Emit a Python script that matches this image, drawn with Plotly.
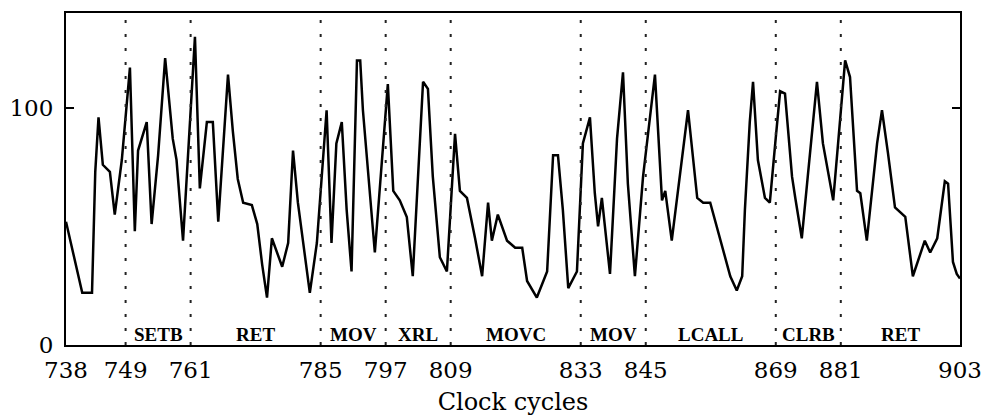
import plotly.graph_objects as go

# Trace (clock cycle, amplitude)
cycles = [738.0, 741.0, 742.8, 743.4, 744.0, 744.8, 746.1, 747.0, 748.3, 749.8,
          750.7, 751.3, 752.9, 753.8, 755.0, 756.3, 757.7, 758.4, 759.6, 761.8,
          762.7, 764.0, 765.1, 766.1, 767.9, 768.8, 769.7, 770.7, 772.3, 773.3,
          774.2, 775.1, 776.0, 777.9, 779.0, 779.9, 780.8, 783.0, 784.3, 785.2,
          786.1, 787.0, 787.9, 788.9, 789.8, 790.7, 791.7, 792.3, 792.8, 795.0,
          797.4, 798.4, 799.6, 800.9, 802.0, 803.9, 804.8, 805.7, 807.0, 808.3,
          809.8, 810.7, 812.0, 813.5, 814.8, 815.9, 816.6, 817.7, 819.4, 820.9,
          822.2, 823.1, 824.9, 826.8, 827.9, 828.8, 829.7, 830.7, 832.3, 833.4,
          834.7, 835.6, 836.2, 836.9, 838.4, 839.7, 840.8, 841.7, 843.0, 844.5,
          846.7, 848.0, 848.6, 849.8, 852.8, 854.5, 855.6, 856.9, 858.7, 860.6,
          861.8, 862.8, 863.3, 864.2, 864.8, 865.7, 867.0, 867.9, 868.9, 869.8,
          870.7, 872.0, 872.6, 873.8, 874.9, 875.9, 876.6, 877.7, 879.6, 880.5,
          881.8, 882.7, 883.3, 884.0, 884.6, 885.8, 887.7, 888.6, 889.7, 891.0,
          892.9, 894.3, 896.5, 897.5, 898.8, 900.2, 900.8, 901.7, 902.4, 903.0]
values = [52, 22, 22, 73, 96, 76, 73, 55, 78, 117,
          48, 82, 94, 51, 80, 121, 87, 78, 44, 130,
          66, 94, 94, 52, 114, 90, 70, 60, 59, 51,
          34, 20, 45, 33, 43, 82, 60, 22, 43, 73,
          99, 43, 85, 94, 57, 31, 120, 120, 99, 39,
          110, 65, 61, 54, 29, 111, 108, 71, 37, 31,
          89, 65, 62, 45, 29, 60, 44, 55, 44, 41,
          41, 27, 20, 31, 80, 80, 57, 24, 31, 85,
          96, 64, 50, 62, 30, 87, 115, 68, 29, 71,
          114, 61, 65, 44, 99, 62, 60, 60, 45, 29,
          23, 29, 57, 94, 111, 78, 62, 60, 85, 107,
          106, 71, 62, 45, 71, 94, 111, 85, 61, 85,
          120, 113, 90, 65, 64, 44, 85, 99, 81, 58,
          54, 29, 44, 39, 45, 69, 68, 35, 30, 28]

# Instruction boundaries and names
x_ticks = [738, 749, 761, 785, 797, 809, 833, 845, 869, 881, 903]
boundaries = [749, 761, 785, 797, 809, 833, 845, 869, 881]
instr_names = ["SETB", "RET", "MOV", "XRL", "MOVC", "MOV", "LCALL", "CLRB", "RET"]
instr_starts = [749, 761, 785, 797, 809, 833, 845, 869, 881]
instr_ends = [761, 785, 797, 809, 833, 845, 869, 881, 903]
y_ticks = [0, 100]

FONT = "DejaVu Serif"

fig = go.Figure()
fig.add_trace(go.Scatter(x=cycles, y=values, mode="lines",
                         line=dict(color="black", width=2.5), showlegend=False))

for b in boundaries:
    fig.add_shape(type="line", xref="x", yref="paper", x0=b, x1=b, y0=0, y1=1,
                  line=dict(color="#222", width=2, dash="3px,11px"))

for name, s, e in zip(instr_names, instr_starts, instr_ends):
    fig.add_annotation(x=(s + e) / 2, y=0, xref="x", yref="y", text="<b>" + name + "</b>",
                       showarrow=False, yanchor="bottom", yshift=-2,
                       font=dict(family="Liberation Serif", size=19, color="black"))

fig.update_layout(
    width=986, height=417,
    margin=dict(l=66, r=26, t=13, b=72, autoexpand=False),
    paper_bgcolor="white", plot_bgcolor="white",
    font=dict(family=FONT, color="black", size=23),
    xaxis=dict(range=[738, 903], tickvals=x_ticks, ticktext=[str(t) for t in x_ticks],
               showgrid=False, zeroline=False, showline=True, linecolor="black",
               linewidth=2, mirror=True, ticks="", ticklabelstandoff=3, automargin=False,
               title=dict(text="Clock cycles", font=dict(family=FONT, size=24), standoff=12),
               tickfont=dict(family=FONT, size=23)),
    yaxis=dict(range=[0, 140], tickvals=y_ticks, showgrid=False, zeroline=False,
               showline=True, linecolor="black", linewidth=2, mirror="ticks",
               ticks="inside", ticklen=8, tickwidth=2, tickcolor="black",
               ticklabelstandoff=6, automargin=False,
               tickfont=dict(family=FONT, size=23)),
)

fig.write_html("out.html")
